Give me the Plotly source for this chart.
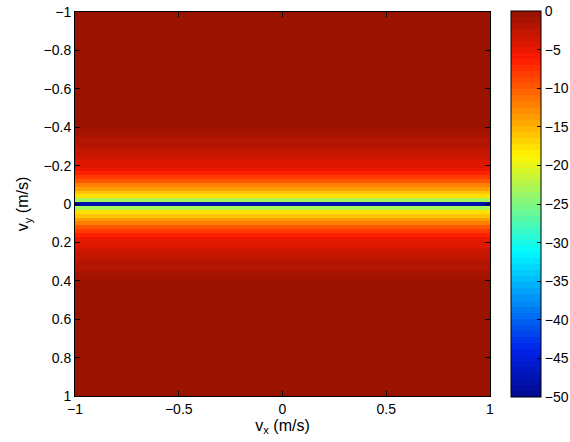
import numpy as np
import plotly.graph_objects as go

# grid (m/s)
vx = np.round(np.linspace(-1, 1, 101), 4)
vy = np.round(np.linspace(-1, 1, 101), 4)

# value (dB) versus |vy| at 0, 0.02, ..., 0.40; beyond 0.40 it is flat
abs_vy_levels = [0.00, 0.02, 0.04, 0.06, 0.08, 0.10, 0.12, 0.14, 0.16, 0.18, 0.20,
                 0.22, 0.24, 0.26, 0.28, 0.30, 0.32, 0.34, 0.36, 0.38, 0.40]
profile_db = [-48.0, -23.0, -17.5, -16.0, -13.6, -11.8, -10.0, -8.3, -6.4, -5.4, -4.6,
              -4.0, -3.5, -3.0, -2.6, -2.2, -1.9, -1.6, -1.4, -1.2, -0.3]
far_db = -0.3

x_ticks = [-1, -0.5, 0, 0.5, 1]
y_ticks = [-1, -0.8, -0.6, -0.4, -0.2, 0, 0.2, 0.4, 0.6, 0.8, 1]
cb_ticks = [0, -5, -10, -15, -20, -25, -30, -35, -40, -45, -50]

# build z
lookup = dict(zip(abs_vy_levels, profile_db))
z = []
for v in vy:
    a = round(abs(v), 2)
    val = lookup.get(a, far_db)
    z.append([val] * len(vx))

# MATLAB-like 64-level jet colormap (discrete)
anchors = [(0.0, (0, 8, 140)), (0.125, (0, 35, 235)), (0.375, (0, 250, 255)),
           (0.625, (255, 245, 0)), (0.875, (255, 25, 0)), (1.0, (146, 19, 0))]

def jet(t):
    for (t0, c0), (t1, c1) in zip(anchors[:-1], anchors[1:]):
        if t <= t1:
            f = (t - t0) / (t1 - t0)
            return tuple(int(round(c0[k] + f * (c1[k] - c0[k]))) for k in range(3))
    return anchors[-1][1]

n = 64
colorscale = []
for i in range(n):
    c = jet((i + 0.5) / n)
    col = "rgb(%d,%d,%d)" % c
    colorscale.append([i / n, col])
    colorscale.append([(i + 1) / n, col])

font = "Liberation Sans, Arial, Helvetica, sans-serif"

fig = go.Figure(go.Heatmap(
    x=vx, y=vy, z=z, zmin=-50, zmax=0, colorscale=colorscale,
    colorbar=dict(
        thickness=30, thicknessmode="pixels", len=1.005, lenmode="fraction",
        x=1.0506, xanchor="left", xpad=0, y=0.5, yanchor="middle", ypad=0,
        outlinecolor="black", outlinewidth=1,
        tickvals=cb_ticks, ticks="inside", ticklen=4, tickcolor="black",
        ticklabeloverflow="allow",
        tickfont=dict(family=font, size=14, color="black"),
    ),
    hoverinfo="skip",
))

axis_common = dict(
    showline=True, linecolor="black", linewidth=1, mirror="ticks",
    ticks="inside", ticklen=5, tickcolor="black", showgrid=False, zeroline=False,
    ticklabeloverflow="allow",
    tickfont=dict(family=font, size=14, color="black"),
)

fig.update_layout(
    width=570, height=442,
    margin=dict(l=75, r=80, t=12, b=46, autoexpand=False),
    paper_bgcolor="white", plot_bgcolor="white",
    xaxis=dict(range=[-1, 1], tickvals=x_ticks, ticktext=["\u22121", "\u22120.5", "0", "0.5", "1"],
               title=dict(text="v<sub>x</sub> (m/s)", font=dict(family=font, size=16, color="black"), standoff=0),
               **axis_common),
    yaxis=dict(range=[1, -1], tickvals=y_ticks,
               ticktext=["\u22121", "\u22120.8", "\u22120.6", "\u22120.4", "\u22120.2", "0", "0.2", "0.4", "0.6", "0.8", "1"],
               title=dict(text="v<sub>y</sub> (m/s)", font=dict(family=font, size=16, color="black"), standoff=10),
               **axis_common),
)

# remove the page's default 8px body margin so the figure sits at the window origin
fig.write_html("out.html", config={"displayModeBar": False},
               post_script="document.body.style.margin='0';document.body.style.overflow='hidden';")
